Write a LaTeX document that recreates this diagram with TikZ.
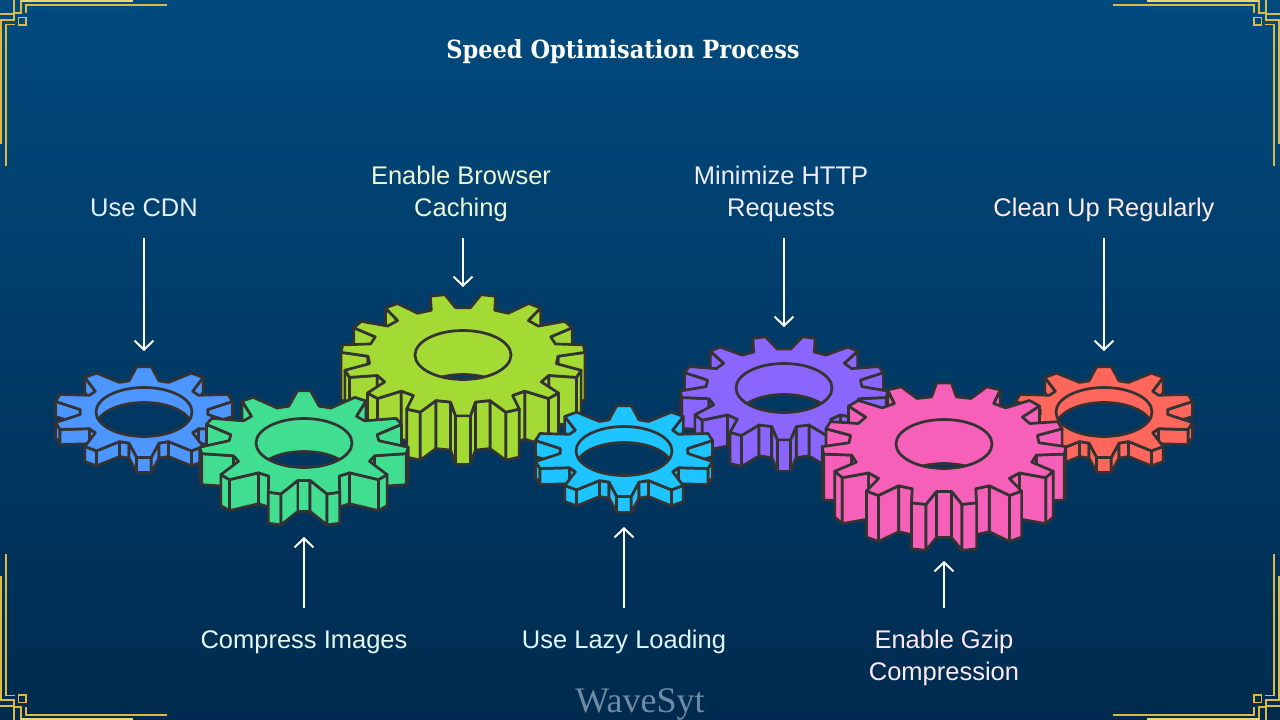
\documentclass[tikz,border=0pt]{standalone}
\usepackage{fontspec}
\setmainfont{Liberation Sans}
\newfontfamily\titlefont{DejaVu Serif Condensed}
\newfontfamily\brandfont{Liberation Serif}
\usetikzlibrary{arrows.meta}
\definecolor{bgtop}{HTML}{014A7E}
\definecolor{bgbot}{HTML}{002B4F}
\definecolor{goldline}{HTML}{DDB944}
\definecolor{goldpale}{HTML}{EAD672}
\definecolor{brandtext}{HTML}{6F8CA5}
\definecolor{gearline}{HTML}{333333}
\definecolor{gblue}{HTML}{4D96FF}
\definecolor{ggreen}{HTML}{41DE92}
\definecolor{glime}{HTML}{A3DA33}
\definecolor{gcyan}{HTML}{1EC4FF}
\definecolor{gpurple}{HTML}{8A66FF}
\definecolor{gpink}{HTML}{F660B8}
\definecolor{gred}{HTML}{FF665C}
\tikzset{
  bgfade/.style={top color=bgtop,bottom color=bgbot},
  gearedge/.style={draw=gearline,line width=2.7pt,line join=round},
  flowarrow/.style={draw=white,line width=2pt,-{Straight Barb[length=9pt,width=19pt,line width=2pt]}},
  toparrow/.style={flowarrow,shorten <=12.4pt},
  botarrow/.style={flowarrow,shorten <=17.6pt},
  steplabel/.style={align=center,font=\fontsize{25.5}{32}\selectfont,inner sep=0pt,outer sep=0pt},
  goldedge/.style={draw=goldline,line width=1.5pt}
}
% cx, cy, tip radius, root radius, teeth, start angle, tip half, root half, depth | colour, wall
\newcommand{\drawgear}[9]{%
  \def\gcx{#1}\def\gcy{#2}\def\gR{#3}\def\gr{#4}\def\gn{#5}\def\gstart{#6}\def\gtip{#7}\def\groot{#8}\def\gdepth{#9}%
  \drawgearb}
\newcommand{\drawgearb}[2]{%
  \pgfmathsetmacro{\gpitch}{360/\gn}
  \pgfmathtruncatemacro{\glast}{4*\gn-1}
  \foreach \k in {0,...,\glast}{
    \pgfmathtruncatemacro{\gt}{floor(\k/4)}
    \pgfmathtruncatemacro{\gm}{mod(\k,4)}
    \pgfmathsetmacro{\gang}{\gstart+\gt*\gpitch+(\gm==0?-\groot:(\gm==1?-\gtip:(\gm==2?\gtip:\groot)))}
    \pgfmathsetmacro{\grad}{(\gm==0||\gm==3)?\gr:\gR}
    \coordinate (gv\k) at ({\gcx+\grad*sin(\gang)},{\gcy-0.5*\grad*cos(\gang)});
    \coordinate (gw\k) at ({\gcx+\grad*sin(\gang)},{\gcy-0.5*\grad*cos(\gang)+\gdepth});
  }
  \pgfmathtruncatemacro{\ghalf}{2*\gn}
  \foreach \j in {0,...,\ghalf}{
    \pgfmathtruncatemacro{\ga}{mod(\j,4*\gn)}
    \pgfmathtruncatemacro{\gb}{mod(\j+1,4*\gn)}
    \pgfmathtruncatemacro{\gc}{mod(4*\gn-1-\j,4*\gn)}
    \pgfmathtruncatemacro{\gd}{mod(4*\gn-\j,4*\gn)}
    \gearface{\ga}{\gb}{#1}
    \gearface{\gc}{\gd}{#1}
  }
  \draw[gearedge,fill=#1] (gv0) \foreach \k in {1,...,\glast}{ -- (gv\k)} -- cycle;
  \begin{scope}
    \clip (\gcx,\gcy) ellipse (48 and 24.5);
    \clip (\gcx,\gcy+#2) ellipse (48 and 24.5);
    \path[bgfade] (0,0) rectangle (1280,720);
  \end{scope}
  \begin{scope}
    \clip (\gcx,\gcy) ellipse (48 and 24.5);
    \draw[gearedge] (\gcx,\gcy+#2) ellipse (48 and 24.5);
  \end{scope}
  \draw[gearedge] (\gcx,\gcy) ellipse (48 and 24.5);
}
% only a face that runs leftwards looks at the viewer
\newcommand{\gearface}[3]{%
  \path (gv#1); \pgfgetlastxy{\gxa}{\gya}
  \path (gv#2); \pgfgetlastxy{\gxb}{\gyb}
  \pgfmathparse{\gxb<\gxa-0.01?1:0}
  \ifnum\pgfmathresult=1
    \draw[gearedge,fill=#3] (gv#1) -- (gv#2) -- (gw#2) -- (gw#1) -- cycle;
  \fi
}
\begin{document}
\begin{tikzpicture}[x=1pt,y=-1pt]
  \useasboundingbox (0,0) rectangle (1280,720);
  \path[bgfade] (0,0) rectangle (1280,720);

  % corners
  \foreach \px/\sx/\py/\sy in {0/1/0/1,1280/-1/0/1,0/1/720/-1,1280/-1/720/-1}{
    \begin{scope}[shift={(\px,\py)},xscale=\sx,yscale=\sy]
      \draw[goldedge] (0,14) -- (14,14) -- (14,0);
      \draw[goldedge] (0,20) -- (14,20) -- (14,14);
      \draw[goldedge] (21,0) -- (21,13) -- (14,13);
      \draw[goldedge] (18.5,17.5) rectangle (26,25);
      \draw[goldedge,goldpale] (21,0.8) -- (133,0.8);
      \draw[goldedge] (0.8,20) -- (0.8,144);
      \draw[goldedge] (26,13) -- (26,5) -- (167,5);
      \draw[goldedge] (15,24.5) -- (6,24.5) -- (6,166);
    \end{scope}
  }

  \node[anchor=base,text=white,inner sep=0pt] (title) at (623,58.3) {\titlefont\bfseries\fontsize{25}{28}\selectfont Speed Optimisation Process};
  \node[anchor=base,text=brandtext,inner sep=0pt] (brand) at (640,712.5) {\brandfont\fontsize{36}{40}\selectfont WaveSyt};

  % gears, back to front
  \drawgear{1104}{412}{91}{64}{10}{0}{4.6}{13.5}{15}{gred}{15}
  \drawgear{784}{388}{104}{78}{13}{13.846}{3.6}{9}{31}{gpurple}{31}
  \drawgear{463}{355}{122}{95}{15}{12}{3.5}{7.5}{48}{glime}{44}
  \drawgear{144}{412}{91}{64}{10}{0}{4.6}{13.5}{15}{gblue}{15}
  \drawgear{304}{443}{104.5}{75}{11}{0}{3.6}{11.7}{31}{ggreen}{33}
  \drawgear{624}{451}{91}{64}{10}{0}{4.6}{13.5}{16}{gcyan}{16}
  \drawgear{944}{444}{122}{95}{15}{0}{3.5}{7.5}{46}{gpink}{44}

  % labels
  \node[steplabel,anchor=south,text=gblue!14!white] (cdn) at (144,225.6) {\strut Use CDN};
  \node[steplabel,anchor=north,text=ggreen!14!white] (img) at (304,625.6) {\strut Compress Images};
  \node[steplabel,anchor=south,text=glime!20!white] (cache) at (461,225.6) {\strut Enable Browser\\\strut Caching};
  \node[steplabel,anchor=north,text=gcyan!14!white] (lazy) at (624,625.6) {\strut Use Lazy Loading};
  \node[steplabel,anchor=south,text=gpurple!12!white] (http) at (781,225.6) {\strut Minimize HTTP\\\strut Requests};
  \node[steplabel,anchor=north,text=gpink!14!white] (gzip) at (944,625.6) {\strut Enable Gzip\\\strut Compression};
  \node[steplabel,anchor=south,text=gred!14!white] (clean) at (1104,225.6) {\strut Clean Up Regularly};

  \coordinate (cdntip) at (144,351);
  \coordinate (imgtip) at (304,537);
  \coordinate (cachetip) at (463,287);
  \coordinate (lazytip) at (624,527);
  \coordinate (httptip) at (784,327);
  \coordinate (gziptip) at (944,561);
  \coordinate (cleantip) at (1104,351);
  \draw[toparrow] (cdn.south) -- (cdntip);
  \draw[botarrow] (img.north) -- (imgtip);
  \draw[toparrow] (cache.south -| cachetip) -- (cachetip);
  \draw[botarrow] (lazy.north) -- (lazytip);
  \draw[toparrow] (http.south -| httptip) -- (httptip);
  \draw[botarrow] (gzip.north) -- (gziptip);
  \draw[toparrow] (clean.south) -- (cleantip);
\end{tikzpicture}
\end{document}
